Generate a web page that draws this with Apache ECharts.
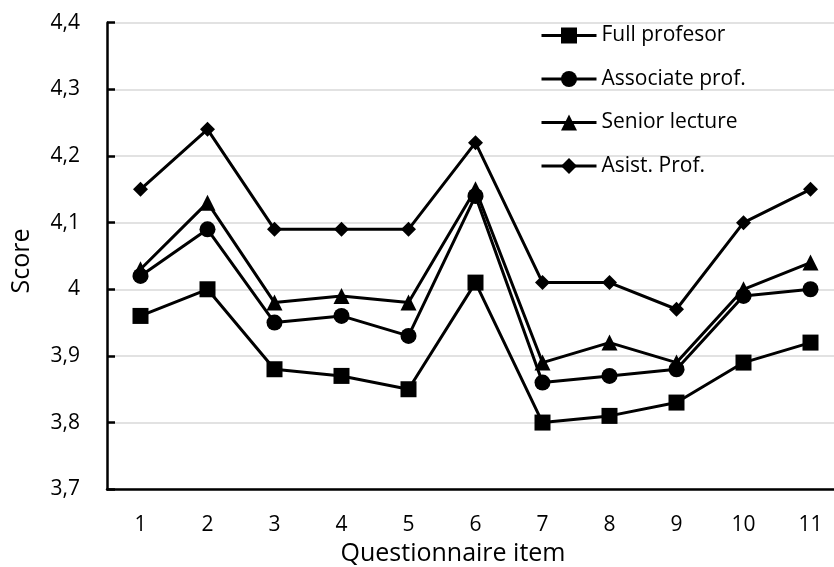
<!DOCTYPE html>
<html>
<head>
<meta charset="utf-8">
<script src="https://cdn.jsdelivr.net/npm/echarts@6/dist/echarts.min.js"></script>
<style>html,body{margin:0;padding:0;background:#fff}#c{width:834px;height:567px}</style>
</head>
<body>
<div id="c"></div>
<script>
const categories = ['1','2','3','4','5','6','7','8','9','10','11'];
const fullProfesor = [3.96, 4.00, 3.88, 3.87, 3.85, 4.01, 3.80, 3.81, 3.83, 3.89, 3.92];
const associateProf = [4.02, 4.09, 3.95, 3.96, 3.93, 4.14, 3.86, 3.87, 3.88, 3.99, 4.00];
const seniorLecture = [4.03, 4.13, 3.98, 3.99, 3.98, 4.15, 3.89, 3.92, 3.89, 4.00, 4.04];
const asistProf = [4.15, 4.24, 4.09, 4.09, 4.09, 4.22, 4.01, 4.01, 3.97, 4.10, 4.15];
const seriesNames = ['Full profesor', 'Associate prof.', 'Senior lecture', 'Asist. Prof.'];
const yMin = 3.7, yMax = 4.4, yStep = 0.1;

const FONT = '"Open Sans", sans-serif';
const chart = echarts.init(document.getElementById('c'));
function mk(name, data, symbol, size) {
  return {
    name, type: 'line', data, symbol, symbolSize: size,
    lineStyle: { color: '#000', width: 3 },
    itemStyle: { color: '#000' },
    animation: false
  };
}
chart.setOption({
  animation: false,
  grid: { left: 107, top: 22.7, width: 737, height: 466.5, outerBoundsMode: 'none', containLabel: false },
  legend: {
    orient: 'vertical', left: 535, top: 20,
    itemWidth: 55, itemHeight: 20, itemGap: 22.5,
    lineStyle: { width: 3, color: '#000' },
    textStyle: { fontFamily: FONT, fontSize: 21, color: '#000' },
    data: seriesNames
  },
  xAxis: {
    type: 'category', data: categories, boundaryGap: true,
    axisLine: { lineStyle: { color: '#000', width: 2.5 } },
    axisTick: { inside: true, length: 8, interval: 0, lineStyle: { color: '#000', width: 2.5 } },
    axisLabel: { margin: 25, fontFamily: FONT, fontSize: 21, color: '#000' },
    splitLine: { show: false }
  },
  yAxis: {
    type: 'value', min: yMin, max: yMax, interval: yStep,
    axisLine: { show: true, lineStyle: { color: '#000', width: 2.5 } },
    axisTick: { show: true, inside: true, length: 8, lineStyle: { color: '#000', width: 2.5 } },
    axisLabel: {
      margin: 27, fontFamily: FONT, fontSize: 21, color: '#000',
      formatter: v => String(Math.round(v * 10) / 10).replace('.', ',')
    },
    splitLine: { show: true, lineStyle: { color: '#d9d9d9', width: 1.5 } }
  },
  graphic: [
    { type: 'text', x: 453, y: 554, style: { text: 'Questionnaire item', fontFamily: FONT, fontSize: 25, fill: '#000', align: 'center', verticalAlign: 'middle', textAlign: 'center', textVerticalAlign: 'middle' } },
    { type: 'text', x: 22, y: 261, rotation: Math.PI / 2, style: { text: 'Score', fontFamily: FONT, fontSize: 25, fill: '#000', align: 'center', verticalAlign: 'middle', textAlign: 'center', textVerticalAlign: 'middle' } }
  ],
  series: [
    mk(seriesNames[0], fullProfesor, 'rect', 16),
    mk(seriesNames[1], associateProf, 'circle', 16),
    mk(seriesNames[2], seniorLecture, 'triangle', 16),
    mk(seriesNames[3], asistProf, 'diamond', 15)
  ]
});
</script>
</body>
</html>
